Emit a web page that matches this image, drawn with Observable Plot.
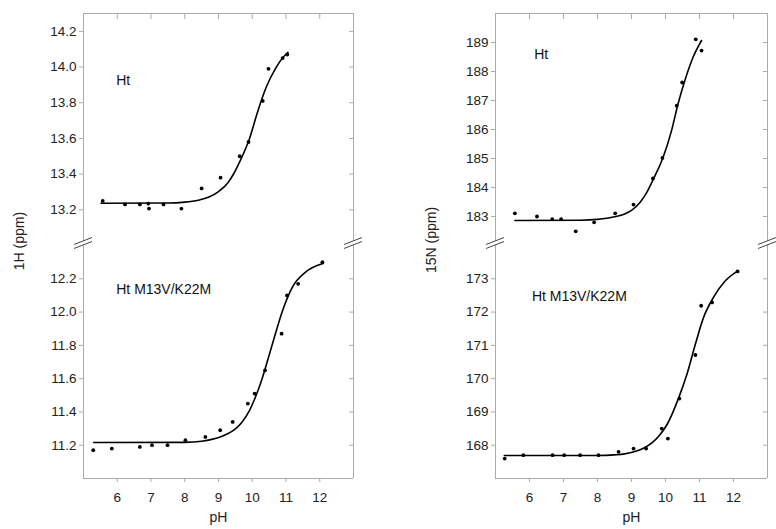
<!DOCTYPE html>
<html><head><meta charset="utf-8">
<script src="https://cdn.jsdelivr.net/npm/d3@7"></script>
<script src="https://cdn.jsdelivr.net/npm/@observablehq/plot@0.6"></script>
<style>
body{margin:0;background:#fff;}
#wrap{position:relative;width:776px;height:529px;font-family:"Liberation Sans",Arial,sans-serif;}
#wrap > svg{position:absolute;}
</style></head><body><div id="wrap"></div>
<script>
// ---- shared x axis ----
const xDomain = [5, 13];
const xTicks = [6, 7, 8, 9, 10, 11, 12];

// ---- 1H, Ht ----
const hHtPH  = [5.57, 6.23, 6.67, 6.92, 6.94, 7.37, 7.90, 8.50, 9.06, 9.63, 9.89, 10.31, 10.48, 10.90, 11.04];
const hHtVal = [13.25, 13.23, 13.23, 13.235, 13.207, 13.23, 13.207, 13.32, 13.38, 13.50, 13.58, 13.81, 13.99, 14.05, 14.07];
const hHtFitPH  = [5.52, 7.5, 8.0, 8.4, 8.7, 9.0, 9.28, 9.45, 9.63, 9.92, 10.16, 10.41, 10.70, 10.99, 11.06];
const hHtFitVal = [13.237, 13.238, 13.243, 13.254, 13.27, 13.302, 13.352, 13.402, 13.47, 13.60, 13.75, 13.885, 13.995, 14.07, 14.082];
const hHtDomain = [13.0, 14.3];
const hHtTicks = [13.2, 13.4, 13.6, 13.8, 14.0, 14.2];

// ---- 1H, Ht M13V/K22M ----
const hMutPH  = [5.29, 5.84, 6.67, 7.03, 7.49, 8.02, 8.61, 9.05, 9.42, 9.87, 10.07, 10.38, 10.87, 11.03, 11.36, 12.08];
const hMutVal = [11.17, 11.18, 11.19, 11.20, 11.20, 11.23, 11.25, 11.29, 11.34, 11.45, 11.51, 11.65, 11.87, 12.10, 12.17, 12.30];
const hMutFitPH  = [5.30, 8.0, 8.5, 8.8, 9.05, 9.3, 9.5, 9.7, 9.92, 10.26, 10.60, 10.90, 11.19, 11.58, 12.07, 12.10];
const hMutFitVal = [11.216, 11.217, 11.224, 11.235, 11.25, 11.272, 11.298, 11.34, 11.41, 11.58, 11.81, 12.01, 12.15, 12.24, 12.29, 12.292];
const hMutDomain = [11.0, 12.4];
const hMutTicks = [11.2, 11.4, 11.6, 11.8, 12.0, 12.2];

// ---- 15N, Ht ----
const nHtPH  = [5.57, 6.22, 6.67, 6.93, 7.36, 7.90, 8.52, 9.06, 9.63, 9.91, 10.33, 10.49, 10.89, 11.06];
const nHtVal = [183.11, 183.0, 182.91, 182.91, 182.49, 182.80, 183.11, 183.41, 184.31, 185.02, 186.82, 187.62, 189.11, 188.72];
const nHtFitPH  = [5.57, 7.5, 8.0, 8.5, 8.8, 9.0, 9.25, 9.45, 9.64, 9.93, 10.18, 10.37, 10.57, 10.81, 11.06];
const nHtFitVal = [182.86, 182.87, 182.90, 182.99, 183.09, 183.21, 183.48, 183.83, 184.28, 185.04, 185.97, 186.89, 187.69, 188.49, 189.07];
const nHtDomain = [182, 190];
const nHtTicks = [183, 184, 185, 186, 187, 188, 189];

// ---- 15N, Ht M13V/K22M ----
const nMutPH  = [5.27, 5.82, 6.68, 7.02, 7.49, 8.03, 8.62, 9.06, 9.43, 9.89, 10.07, 10.41, 10.88, 11.05, 11.37, 12.12];
const nMutVal = [167.60, 167.70, 167.70, 167.70, 167.70, 167.70, 167.80, 167.90, 167.90, 168.50, 168.20, 169.40, 170.71, 172.19, 172.29, 173.22];
const nMutFitPH  = [5.26, 8.0, 8.5, 8.8, 9.1, 9.35, 9.6, 9.8, 10.05, 10.39, 10.63, 10.88, 11.12, 11.41, 11.76, 12.13];
const nMutFitVal = [167.69, 167.69, 167.71, 167.74, 167.81, 167.91, 168.07, 168.27, 168.63, 169.43, 170.13, 171.04, 171.84, 172.44, 172.94, 173.24];
const nMutDomain = [167, 174];
const nMutTicks = [168, 169, 170, 171, 172, 173];

// ---- labels ----
const nameHt = "Ht";
const nameMut = "Ht M13V/K22M";
const yLabelH = "1H (ppm)";
const yLabelN = "15N (ppm)";
const xLabel = "pH";

const GRAY = "#ababab";
const TXT = "#222";
const FONT = "'Liberation Sans', Arial, sans-serif";

const wrap = document.getElementById("wrap");

function panel(o) {
  const pts = o.px.map((x, i) => ({x, y: o.py[i]}));
  const fit = o.fx.map((x, i) => ({x, y: o.fy[i]}));
  const marks = [
    Plot.ruleX([xDomain[0], xDomain[1]], {stroke: GRAY}),
    o.top ? Plot.ruleY([o.yDomain[1]], {stroke: GRAY}) : Plot.ruleY([o.yDomain[0]], {stroke: GRAY}),
    Plot.axisY(o.yTicks, {anchor: "left", tickSize: 4, tickPadding: 3, stroke: GRAY, fill: TXT, fontSize: 13.5,
      tickFormat: o.fmt, label: null}),
    Plot.axisY(o.yTicks, {anchor: "right", tickSize: 5, dx: -5, stroke: GRAY, tickFormat: () => "", label: null}),
    o.top
      ? Plot.axisX(xTicks, {anchor: "top", tickSize: 5, dy: 5, stroke: GRAY, tickFormat: () => "", label: null})
      : Plot.axisX(xTicks, {anchor: "bottom", tickSize: 4, tickPadding: 10, stroke: GRAY, fill: TXT, fontSize: 13.5, label: null}),
    Plot.line(fit, {x: "x", y: "y", curve: "monotone-x", stroke: "#000", strokeWidth: 1.6}),
    Plot.dot(pts, {x: "x", y: "y", r: 1.9, fill: "#000"}),
    Plot.text([o.name], {x: o.tx, y: o.ty, textAnchor: "start", fontSize: 14, fill: "#111"})
  ];
  if (!o.top) marks.push(Plot.text([xLabel], {frameAnchor: "bottom", dy: 43, fontSize: 14, fill: TXT}));
  const chart = Plot.plot({
    width: o.width, height: o.height,
    marginLeft: o.mL, marginRight: o.mR, marginTop: o.mT, marginBottom: o.mB,
    x: {domain: xDomain, axis: null},
    y: {domain: o.yDomain, axis: null},
    style: {fontFamily: FONT, fontSize: "13.5px", background: "transparent", overflow: "visible"},
    marks
  });
  chart.style.left = o.left + "px";
  chart.style.top = o.topPx + "px";
  wrap.appendChild(chart);
  return chart;
}

const f1 = d3.format(".1f");
const f0 = d3.format("d");

const LT = panel({left: 0, topPx: 0, width: 388, height: 245, mL: 83, mR: 35, mT: 13, mB: 0, top: true,
  yDomain: hHtDomain, yTicks: hHtTicks, fmt: f1, px: hHtPH, py: hHtVal, fx: hHtFitPH, fy: hHtFitVal,
  name: nameHt, tx: 5.97, ty: 13.925});
const LB = panel({left: 0, topPx: 245, width: 388, height: 284, mL: 83, mR: 35, mT: 0, mB: 51, top: false,
  yDomain: hMutDomain, yTicks: hMutTicks, fmt: f1, px: hMutPH, py: hMutVal, fx: hMutFitPH, fy: hMutFitVal,
  name: nameMut, tx: 5.97, ty: 12.135});
const RT = panel({left: 388, topPx: 0, width: 388, height: 245, mL: 107, mR: 9, mT: 13, mB: 0, top: true,
  yDomain: nHtDomain, yTicks: nHtTicks, fmt: f0, px: nHtPH, py: nHtVal, fx: nHtFitPH, fy: nHtFitVal,
  name: nameHt, tx: 6.14, ty: 188.59});
const RB = panel({left: 388, topPx: 245, width: 388, height: 284, mL: 107, mR: 9, mT: 0, mB: 51, top: false,
  yDomain: nMutDomain, yTicks: nMutTicks, fmt: f0, px: nMutPH, py: nMutVal, fx: nMutFitPH, fy: nMutFitVal,
  name: nameMut, tx: 6.07, ty: 172.47});

// ---- overlay: axis-break marks and rotated y labels ----
const ov = d3.select(wrap).append("svg")
  .attr("width", 776).attr("height", 529)
  .style("left", "0px").style("top", "0px").style("pointer-events", "none");

function breaks(chart, offX) {
  const sx = chart.scale("x"), sy = chart.scale("y");
  const cy = sy.apply(sy.domain[0]) - 1;
  for (const v of xDomain) {
    const cx = offX + sx.apply(v);
    const g = ov.append("g").attr("transform", `translate(${cx},${cy})`);
    g.append("path").attr("d", "M-9,4.5 L9,-2.5 L9,-6.5 L-9,0.5 Z").attr("fill", "#fff");
    g.append("line").attr("x1", -9).attr("y1", 4.5).attr("x2", 9).attr("y2", -2.5).attr("stroke", "#444").attr("stroke-width", 1);
    g.append("line").attr("x1", -9).attr("y1", 0.5).attr("x2", 9).attr("y2", -6.5).attr("stroke", "#444").attr("stroke-width", 1);
  }
}
breaks(LT, 0);
breaks(RT, 388);

function yLabel(text, x, y) {
  ov.append("text").attr("transform", `translate(${x},${y}) rotate(-90)`)
    .attr("text-anchor", "middle").attr("dominant-baseline", "middle")
    .attr("font-family", FONT).attr("font-size", 14).attr("fill", TXT).text(text);
}
yLabel(yLabelH, 20, 241);
yLabel(yLabelN, 432, 240);
</script>
</body></html>
